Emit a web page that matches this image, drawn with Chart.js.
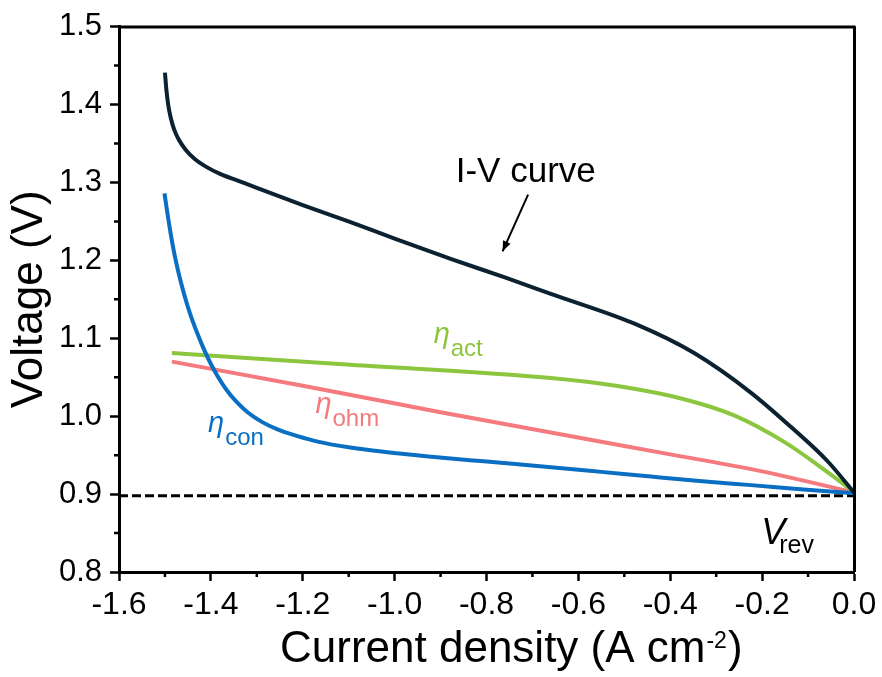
<!DOCTYPE html>
<html><head><meta charset="utf-8">
<script src="https://cdn.jsdelivr.net/npm/chart.js@4.4.0/dist/chart.umd.min.js"></script>
<style>html,body{margin:0;padding:0;background:#fff;}</style>
</head><body>
<canvas id="c" width="882" height="677"></canvas>
<script>
// ---- data ----
const ivX  = [-1.500,-1.497,-1.493,-1.487,-1.480,-1.470,-1.455,-1.435,-1.410,-1.380,-1.340,-1.300,-1.200,-1.096,-1.000,-0.878,-0.760,-0.660,-0.479,-0.348,-0.224,-0.137,-0.0565,0.000];
const ivY  = [1.441,1.420,1.400,1.382,1.368,1.355,1.342,1.330,1.320,1.311,1.302,1.293,1.271,1.249,1.228,1.202,1.178,1.157,1.119,1.081,1.030,0.986,0.9415,0.902];

const actX = [-1.485,-1.096,-0.660,-0.5145,-0.370,-0.261,-0.152,-0.078,-0.021,0.000];
const actY = [1.081,1.066,1.049,1.0386,1.0217,1.001,0.967,0.937,0.912,0.9015];

const ohmX = [-1.485,-1.200,-0.900,-0.660,-0.400,-0.224,-0.100,0.000];
const ohmY = [1.070,1.039,1.005,0.979,0.951,0.932,0.916,0.902];

const conX = [-1.501,-1.495,-1.488,-1.480,-1.470,-1.458,-1.445,-1.430,-1.416,-1.400,-1.383,-1.365,-1.345,-1.320,-1.290,-1.255,-1.215,-1.165,-1.100,-1.020,-0.920,-0.806,-0.660,-0.550,-0.442,-0.330,-0.224,-0.110,0.000];
const conY = [1.286,1.262,1.236,1.210,1.183,1.156,1.131,1.107,1.087,1.067,1.049,1.033,1.019,1.005,0.993,0.983,0.975,0.967,0.960,0.954,0.948,0.942,0.9345,0.9285,0.9225,0.9165,0.9115,0.906,0.901];

const revX = [-1.6, 0.0];
const revY = [0.898, 0.898];

const xTicks = [-1.6,-1.4,-1.2,-1.0,-0.8,-0.6,-0.4,-0.2,0.0];
const yTicks = [0.8,0.9,1.0,1.1,1.2,1.3,1.4,1.5];
const xMinor = [-1.5,-1.3,-1.1,-0.9,-0.7,-0.5,-0.3,-0.1];
const yMinor = [0.85,0.95,1.05,1.15,1.25,1.35,1.45];

const xTitle = 'Current density (A cm';
const xTitleSup = '-2';
const xTitleEnd = ')';
const yTitle = 'Voltage (V)';

// annotation anchors (data coordinates)
const ivLabel = {text:'I-V curve', x:-0.867, y:1.300};
const ivArrow = {x1:-0.7095, y1:1.2843, x2:-0.765, y2:1.2116};
const etaLabels = [
  {sub:'act', x:-0.915, y:1.0935, color:'#8cc63f'},
  {sub:'ohm', x:-1.1725, y:1.0035, color:'#f47a7e'},
  {sub:'con', x:-1.406, y:0.980, color:'#0a6fc2'}
];
const vrevLabel = {x:-0.202, y:0.8364};

const FONT = "'Liberation Sans', Arial, sans-serif";

const pts = (xs, ys) => xs.map((x,i)=>({x, y: ys[i]}));

const minorTicks = {
  id:'minorTicks',
  afterDraw(chart){
    const {ctx, chartArea:a, scales:{x, y}} = chart;
    ctx.save();
    ctx.strokeStyle = '#000';
    ctx.lineWidth = 2.5;
    ctx.beginPath();
    yMinor.forEach(v=>{ const p = y.getPixelForValue(v); ctx.moveTo(a.left-5, p); ctx.lineTo(a.left, p); });
    xMinor.forEach(v=>{ const p = x.getPixelForValue(v); ctx.moveTo(p, a.bottom); ctx.lineTo(p, a.bottom+5); });
    ctx.stroke();
    // top and right frame
    ctx.lineWidth = 3;
    ctx.beginPath();
    ctx.moveTo(a.left, a.top+0.5); ctx.lineTo(a.right+1.5, a.top+0.5);
    ctx.moveTo(a.right+0.5, a.top); ctx.lineTo(a.right+0.5, a.bottom);
    ctx.stroke();
    ctx.restore();
  }
};

const annotations = {
  id:'annotations',
  afterDraw(chart){
    const {ctx, chartArea:a, scales:{x, y}} = chart;
    ctx.save();
    ctx.textBaseline = 'alphabetic';
    ctx.textAlign = 'left';
    // I-V curve label
    ctx.fillStyle = '#000';
    ctx.font = `35px ${FONT}`;
    ctx.fillText(ivLabel.text, x.getPixelForValue(ivLabel.x), y.getPixelForValue(ivLabel.y));
    // arrow
    const x1 = x.getPixelForValue(ivArrow.x1), y1 = y.getPixelForValue(ivArrow.y1);
    const x2 = x.getPixelForValue(ivArrow.x2), y2 = y.getPixelForValue(ivArrow.y2);
    ctx.strokeStyle = '#000'; ctx.lineWidth = 2;
    ctx.beginPath(); ctx.moveTo(x1,y1); ctx.lineTo(x2,y2); ctx.stroke();
    const ang = Math.atan2(y2-y1, x2-x1);
    const L = 11, W = 0.38;
    ctx.beginPath();
    ctx.moveTo(x2,y2);
    ctx.lineTo(x2 - L*Math.cos(ang-W), y2 - L*Math.sin(ang-W));
    ctx.lineTo(x2 - L*Math.cos(ang+W), y2 - L*Math.sin(ang+W));
    ctx.closePath(); ctx.fillStyle='#000'; ctx.fill();
    // eta labels
    etaLabels.forEach(l=>{
      const px = x.getPixelForValue(l.x), py = y.getPixelForValue(l.y);
      ctx.fillStyle = l.color;
      ctx.font = `italic 29px ${FONT}`;
      ctx.fillText('\u03B7', px, py);
      const w = ctx.measureText('\u03B7').width;
      ctx.font = `24px ${FONT}`;
      ctx.fillText(l.sub, px + w + 1, py + 13);
    });
    // V_rev
    {
      const px = x.getPixelForValue(vrevLabel.x), py = y.getPixelForValue(vrevLabel.y);
      ctx.fillStyle = '#000';
      ctx.font = `italic 36px ${FONT}`;
      ctx.fillText('V', px, py);
      const w = ctx.measureText('V').width;
      ctx.font = `25px ${FONT}`;
      ctx.fillText('rev', px + w - 6, py + 9);
    }
    // x axis title with superscript
    {
      const bx = a.left + 161, by = a.bottom + 90;
      ctx.fillStyle = '#000';
      ctx.font = `44px ${FONT}`;
      ctx.fillText(xTitle, bx, by);
      let w = ctx.measureText(xTitle).width;
      ctx.font = `23px ${FONT}`;
      ctx.fillText(xTitleSup, bx + w + 1, by - 14);
      const w2 = ctx.measureText(xTitleSup).width;
      ctx.font = `44px ${FONT}`;
      ctx.fillText(xTitleEnd, bx + w + w2 + 2, by);
    }
    ctx.restore();
  }
};

const lineDs = (label, xs, ys, color, order, extra={}) => Object.assign({
  label, data: pts(xs, ys), borderColor: color, backgroundColor: color,
  borderWidth: 4, pointRadius: 0, fill: false, cubicInterpolationMode: 'monotone', order,
  borderCapStyle: 'butt', borderJoinStyle: 'round'
}, extra);

new Chart(document.getElementById('c'), {
  type: 'line',
  data: {
    datasets: [
      lineDs('I-V curve', ivX, ivY, '#0c2231', 0),
      lineDs('η con', conX, conY, '#0a6fc2', 1),
      lineDs('η act', actX, actY, '#8cc63f', 2),
      lineDs('η ohm', ohmX, ohmY, '#f47a7e', 3),
      lineDs('V rev', revX, revY, '#000', 4, {borderWidth: 3, borderDash: [9,4], cubicInterpolationMode: 'default', tension: 0})
    ]
  },
  options: {
    responsive: false,
    animation: false,
    devicePixelRatio: 1,
    layout: { padding: { left: 0, top: 19, right: 28, bottom: 0 } },
    plugins: { legend: { display: false }, tooltip: { enabled: false } },
    scales: {
      x: {
        type: 'linear', min: -1.6, max: 0,
        afterBuildTicks: s => { s.ticks = xTicks.map(v=>({value:v})); },
        afterFit: s => { s.height = 105; },
        ticks: { color: '#000', font: { size: 32, family: FONT }, padding: 5,
                 callback: v => Number(v).toFixed(1), autoSkip: false, maxRotation: 0 },
        grid: { drawOnChartArea: false, drawTicks: true, tickLength: 9, tickWidth: 2.5, tickColor: '#000' },
        border: { display: true, color: '#000', width: 3 },
        title: { display: false }
      },
      y: {
        type: 'linear', min: 0.8, max: 1.5,
        afterBuildTicks: s => { s.ticks = yTicks.map(v=>({value:v})); },
        afterFit: s => { s.width = 119; },
        ticks: { color: '#000', font: { size: 31, family: FONT }, padding: 8,
                 callback: v => Number(v).toFixed(1), autoSkip: false },
        grid: { drawOnChartArea: false, drawTicks: true, tickLength: 9, tickWidth: 2.5, tickColor: '#000' },
        border: { display: true, color: '#000', width: 3 },
        title: { display: true, text: yTitle, color: '#000', font: { size: 44, family: FONT }, padding: { top: 3, bottom: 0 } }
      }
    }
  },
  plugins: [minorTicks, annotations]
});
</script>
</body></html>
